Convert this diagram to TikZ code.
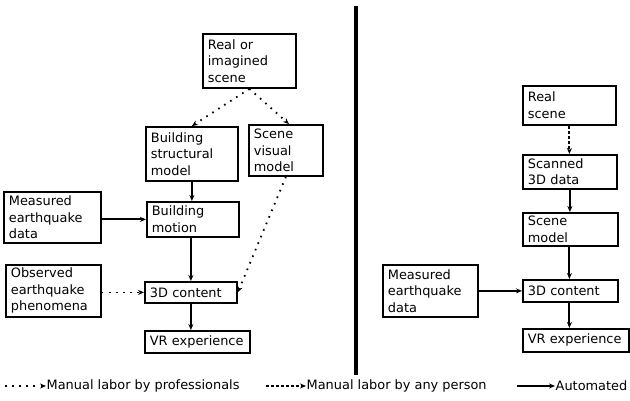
\documentclass[tikz,border=0pt]{standalone}
\usepackage{fontspec}
\setmainfont{DejaVu Sans}
\usetikzlibrary{arrows.meta}
\newcommand\bx[6]{%
  \pgfmathsetmacro\bxw{#4-#2}\pgfmathsetmacro\bxh{#5-#3}\pgfmathsetmacro\bxt{#4-#2-10}%
  \node[box, minimum width=\bxw pt, minimum height=\bxh pt, text width=\bxt pt, anchor=north west] (#1) at (#2,#3) {#6};}
\tikzset{
  box/.style={draw, line width=1.8pt, inner xsep=5pt, inner ysep=1pt, align=left, font=\fontsize{12.9}{16.5}\selectfont},
  lbl/.style={font=\fontsize{12.9}{16}\selectfont, inner sep=0.5pt},
  auto/.style={line width=2pt, -{Stealth[length=6pt,width=5pt]}},
  prof/.style={line width=1.8pt, dash pattern=on 1.6pt off 5.5pt, -{Stealth[length=6pt,width=5pt]}},
  anyp/.style={line width=2pt, dash pattern=on 3pt off 2pt, -{Stealth[length=6pt,width=5pt]}},
}
\begin{document}
\begin{tikzpicture}[x=1pt,y=-1pt]
\useasboundingbox[fill=white] (0,0) rectangle (630,401);
% left
\bx{scene}{202}{33}{295}{87}{Real or\\imagined\\scene}
\bx{bsm}{145}{126}{237}{180}{Building\\structural\\model}
\bx{svm}{248}{124}{322}{175}{Scene\\visual\\model}
\bx{meas1}{3}{191}{100}{242}{Measured\\earthquake\\data}
\bx{bm}{146}{201}{238}{236}{Building\\motion}
\bx{obs}{5}{264}{100}{316}{Observed\\earthquake\\phenomena}
\bx{cA}{144}{281}{236}{302}{3D content}
\bx{vrA}{144}{330}{249}{352}{VR experience}
% right
\bx{real}{522}{85}{615}{124}{Real\\scene}
\bx{scan}{522}{154}{616}{188}{Scanned\\3D data}
\bx{smod}{522}{212}{617}{245}{Scene\\model}
\bx{meas2}{382}{264}{477}{316}{Measured\\earthquake\\data}
\bx{cB}{522}{279}{617}{301}{3D content}
\bx{vrB}{522}{328}{628}{351}{VR experience}
% left connectors
\draw[prof] (scene.south) -- (bsm.north);
\draw[prof] (scene.south) -- ([xshift=3pt]svm.north);
\draw[auto] (bsm.south) -- (bm.north -| bsm.south);
\draw[auto] (meas1.east |- bm.west) -- (bm.west);
\draw[auto] (bm.south -| cA.north) -- (cA.north);
\draw[prof] (obs.east |- cA.west) -- (cA.west);
\draw[prof] (svm.south) -- (cA.east);
\draw[auto] (cA.south) -- (cA.south |- vrA.north);
% right connectors
\draw[anyp] (real.south) -- (real.south |- scan.north);
\draw[auto] (scan.south) -- (scan.south |- smod.north);
\draw[auto] (smod.south -| real.south) -- (real.south |- cB.north);
\draw[auto] (meas2.east |- cB.west) -- (cB.west);
\draw[auto] (cB.south -| real.south) -- (real.south |- vrB.north);
% separator
\coordinate (sepT) at (356,6);
\coordinate (sepB) at (356,375);
\draw[line width=3.2pt] (sepT) -- (sepB);
% legend
\coordinate (lA) at (5,386);
\node[lbl, anchor=west] (tA) at (46,386) {Manual labor by professionals};
\draw[prof] (lA) -- (tA.west);
\coordinate (lB) at (266,386);
\node[lbl, anchor=west] (tB) at (306,386) {Manual labor by any person};
\draw[anyp] (lB) -- (tB.west);
\coordinate (lC) at (517,386);
\node[lbl, anchor=west] (tC) at (555,386) {Automated};
\draw[auto] (lC) -- (tC.west);
\end{tikzpicture}
\end{document}
